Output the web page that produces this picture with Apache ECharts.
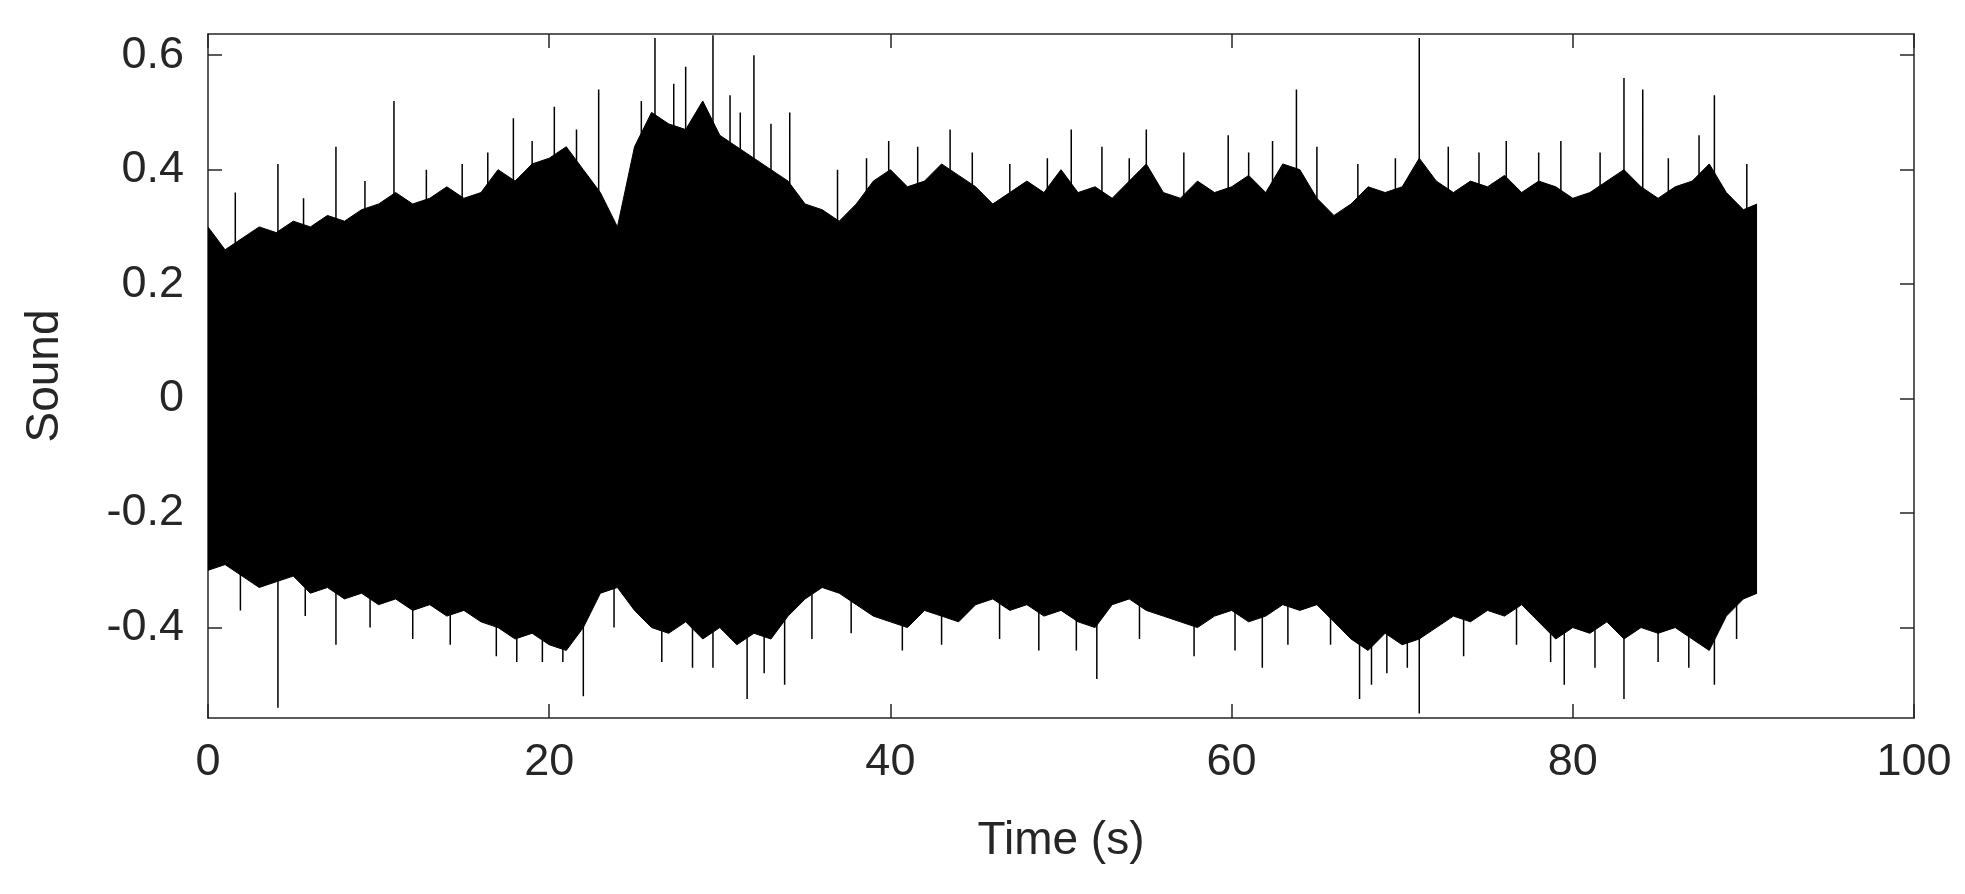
<!DOCTYPE html>
<html><head><meta charset="utf-8">
<script src="https://cdn.jsdelivr.net/npm/echarts@6/dist/echarts.min.js"></script>
<style>html,body{margin:0;background:#fff}#c{width:1965px;height:894px}</style>
</head><body><div id="c"></div>
<script>
const upperEnv=[0.30,0.26,0.28,0.30,0.29,0.31,0.30,0.32,0.31,0.33,0.34,0.36,0.34,0.35,0.37,0.35,0.36,0.40,0.38,0.41,0.42,0.44,0.40,0.36,0.30,0.44,0.50,0.48,0.47,0.52,0.46,0.44,0.42,0.40,0.38,0.34,0.33,0.31,0.34,0.38,0.40,0.37,0.38,0.41,0.39,0.37,0.34,0.36,0.38,0.36,0.40,0.36,0.37,0.35,0.38,0.41,0.36,0.35,0.38,0.36,0.37,0.39,0.36,0.41,0.40,0.35,0.32,0.34,0.37,0.36,0.37,0.42,0.38,0.36,0.38,0.37,0.39,0.36,0.38,0.37,0.35,0.36,0.38,0.40,0.37,0.35,0.37,0.38,0.41,0.36,0.33,0.34];
const lowerEnv=[-0.30,-0.29,-0.31,-0.33,-0.32,-0.31,-0.34,-0.33,-0.35,-0.34,-0.36,-0.35,-0.37,-0.36,-0.38,-0.37,-0.39,-0.40,-0.42,-0.41,-0.43,-0.44,-0.40,-0.34,-0.33,-0.37,-0.40,-0.41,-0.39,-0.42,-0.40,-0.43,-0.41,-0.42,-0.38,-0.35,-0.33,-0.34,-0.36,-0.38,-0.39,-0.40,-0.37,-0.38,-0.39,-0.36,-0.35,-0.37,-0.36,-0.38,-0.37,-0.39,-0.40,-0.36,-0.35,-0.37,-0.38,-0.39,-0.40,-0.38,-0.37,-0.39,-0.38,-0.36,-0.37,-0.36,-0.39,-0.42,-0.44,-0.41,-0.43,-0.42,-0.40,-0.38,-0.39,-0.37,-0.38,-0.36,-0.39,-0.42,-0.40,-0.41,-0.39,-0.42,-0.40,-0.41,-0.40,-0.42,-0.44,-0.38,-0.35,-0.34];
const envTimes=upperEnv.map((_,i)=>i===91?90.8:i);
const spikes=[[4.1,0.41],[7.5,0.44],[10.9,0.52],[17.9,0.49],[20.3,0.51],[22.9,0.54],[26.2,0.63],[28,0.58],[29.6,0.635],[32,0.6],[34.1,0.5],[39.9,0.45],[43.5,0.47],[50.6,0.47],[55,0.47],[59.8,0.46],[63.8,0.54],[71,0.63],[79.3,0.45],[83,0.56],[84.1,0.54],[88.3,0.53],
[1.6,0.36],[5.6,0.35],[9.2,0.38],[12.8,0.40],[14.9,0.41],[16.4,0.43],[19.0,0.45],[21.6,0.47],[25.4,0.52],[27.3,0.55],[30.6,0.53],[31.2,0.50],[33.0,0.48],[36.9,0.40],[38.6,0.42],[41.6,0.44],[44.8,0.43],[47.0,0.41],[49.2,0.42],[52.4,0.44],[54.0,0.42],[57.2,0.43],[61.0,0.43],[62.4,0.45],[65.0,0.44],[67.4,0.41],[69.6,0.42],[72.7,0.44],[74.5,0.43],[76.1,0.45],[78.0,0.43],[81.6,0.43],[85.6,0.42],[87.4,0.46],[90.2,0.41],
[1.9,-0.37],[5.7,-0.38],[9.5,-0.40],[12.0,-0.42],[14.2,-0.43],[16.9,-0.45],[19.6,-0.46],[23.8,-0.40],[26.6,-0.46],[28.4,-0.47],[32.6,-0.48],[35.4,-0.42],[37.7,-0.41],[40.7,-0.44],[43.0,-0.43],[46.4,-0.42],[48.7,-0.44],[50.9,-0.44],[54.6,-0.42],[57.8,-0.45],[60.2,-0.44],[63.3,-0.43],[65.8,-0.43],[69.1,-0.48],[70.3,-0.47],[73.6,-0.45],[76.7,-0.43],[78.7,-0.46],[81.3,-0.47],[85.0,-0.46],[86.8,-0.47],[89.6,-0.42],
[4.1,-0.54],[7.5,-0.43],[18.1,-0.46],[20.8,-0.46],[22,-0.52],[29.6,-0.47],[31.6,-0.525],[33.8,-0.5],[52.1,-0.49],[61.8,-0.47],[67.5,-0.525],[68.2,-0.5],[71,-0.55],[79.5,-0.5],[83,-0.525],[88.3,-0.5]];
const yTicks=[-0.4,-0.2,0,0.2,0.4,0.6];

const spikeData=[];
spikes.forEach(([t,v])=>{spikeData.push([t,0],[t,v],[t,0]);});
const font='Liberation Sans';
const C='#262626';
const tick={inside:true,length:14,lineStyle:{color:C,width:1.5}};
const line={show:true,onZero:false,lineStyle:{color:C,width:1.5}};
const chart=echarts.init(document.getElementById('c'));
chart.setOption({
  animation:false,
  grid:{left:208,right:51,top:34,bottom:176},
  xAxis:[
    {type:'value',min:0,max:100,interval:20,name:'Time (s)',nameLocation:'middle',nameGap:100,
      nameTextStyle:{fontFamily:font,fontSize:46,color:C},axisLine:line,splitLine:{show:false},axisTick:tick,
      axisLabel:{fontFamily:font,fontSize:45,color:C,margin:22}},
    {type:'value',min:0,max:100,interval:20,position:'top',axisLine:line,splitLine:{show:false},axisTick:tick,axisLabel:{show:false}}
  ],
  yAxis:[
    {type:'value',min:-0.558,max:0.637,name:'Sound',nameLocation:'middle',nameGap:140,
      nameTextStyle:{fontFamily:font,fontSize:46,color:C},axisLine:line,splitLine:{show:false},
      axisTick:Object.assign({customValues:yTicks},tick),
      axisLabel:{fontFamily:font,fontSize:45,color:C,margin:24,customValues:yTicks,formatter:v=>String(Math.round(v*10)/10)}},
    {type:'value',min:-0.558,max:0.637,position:'right',axisLine:line,splitLine:{show:false},
      axisTick:Object.assign({customValues:yTicks},tick),axisLabel:{show:false}}
  ],
  series:[
    {type:'line',symbol:'none',lineStyle:{width:1,color:'#000'},areaStyle:{color:'#000',opacity:1,origin:0},
      data:envTimes.map((t,i)=>[t,upperEnv[i]])},
    {type:'line',symbol:'none',lineStyle:{width:1,color:'#000'},areaStyle:{color:'#000',opacity:1,origin:0},
      data:envTimes.map((t,i)=>[t,lowerEnv[i]])},
    {type:'line',symbol:'none',lineStyle:{width:4,color:'#000'},data:[[envTimes[0],0],[envTimes[envTimes.length-1],0]]},
    {type:'line',symbol:'none',lineStyle:{width:1.5,color:'#000'},data:spikeData}
  ]
});
</script></body></html>
